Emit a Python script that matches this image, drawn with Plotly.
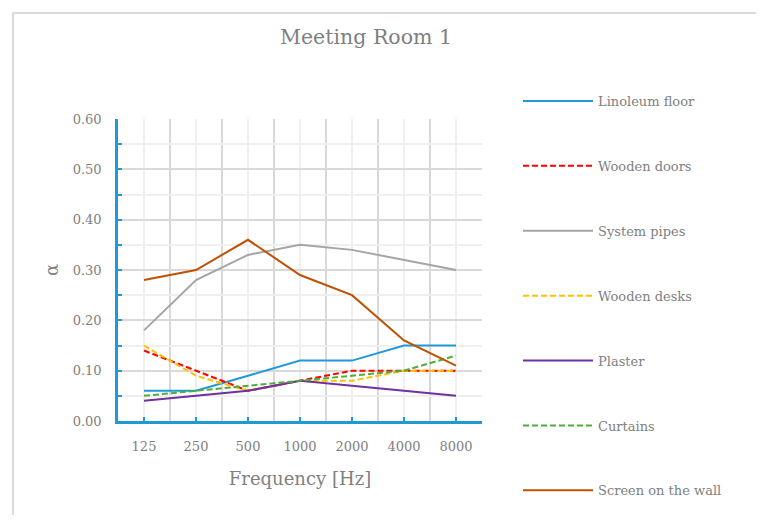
import plotly.graph_objects as go

# octave band centre frequencies
freqs = ["125", "250", "500", "1000", "2000", "4000", "8000"]

# absorption coefficients
linoleum_floor = [0.06, 0.06, 0.09, 0.12, 0.12, 0.15, 0.15]
wooden_doors = [0.14, 0.10, 0.06, 0.08, 0.10, 0.10, 0.10]
system_pipes = [0.18, 0.28, 0.33, 0.35, 0.34, 0.32, 0.30]
wooden_desks = [0.15, 0.09, 0.06, 0.08, 0.08, 0.10, 0.10]
plaster = [0.04, 0.05, 0.06, 0.08, 0.07, 0.06, 0.05]
curtains = [0.05, 0.06, 0.07, 0.08, 0.09, 0.10, 0.13]
screen_wall = [0.28, 0.30, 0.36, 0.29, 0.25, 0.16, 0.11]

series = [
    ("Linoleum floor", linoleum_floor, "#1f9ad7", "solid"),
    ("Wooden doors", wooden_doors, "#ff0000", "6px,3px"),
    ("System pipes", system_pipes, "#a5a5a5", "solid"),
    ("Wooden desks", wooden_desks, "#ffc000", "6px,3px"),
    ("Plaster", plaster, "#7030a0", "solid"),
    ("Curtains", curtains, "#4caf3a", "6px,3px"),
    ("Screen on the wall", screen_wall, "#bf5000", "solid"),
]

FONT = "DejaVu Serif"
GREY = "#808080"
AXIS_BLUE = "#1f9ad7"

xpos = list(range(len(freqs)))

fig = go.Figure()
for name, vals, color, dash in series:
    fig.add_trace(go.Scatter(
        x=xpos,
        y=vals,
        mode="lines",
        name=name,
        legendgroup=name,
        line=dict(color=color, width=2, dash=dash),
    ))

# page body has an 8px margin, so the figure is shrunk to fit the window
W, H = 748, 507
L, T = 110, 111
R, B = W - 474, H - 413
pw, ph = W - L - R, H - T - B

fig.update_layout(
    width=W,
    height=H,
    autosize=False,
    margin=dict(l=L, r=R, t=T, b=B),
    paper_bgcolor="white",
    plot_bgcolor="white",
    font=dict(family=FONT, color=GREY, size=13),
    title=dict(text="Meeting Room 1", x=358 / W, xanchor="center", y=1 - 29 / H, yanchor="middle",
               font=dict(size=20.5, color=GREY, family=FONT)),
    showlegend=True,
    legend=dict(
        x=1 + (510 - L - pw) / pw, xanchor="left",
        y=1 + (T - 78) / ph, yanchor="top",
        traceorder="grouped",
        tracegroupgap=45,
        itemwidth=70,
        maxheight=1000,
        font=dict(size=13, color=GREY, family=FONT),
        bgcolor="rgba(0,0,0,0)",
    ),
)

fig.update_xaxes(
    range=[-0.5, len(freqs) - 0.5],
    tickvals=xpos,
    ticktext=freqs,
    showgrid=True,
    gridcolor="#efefef",
    gridwidth=2,
    ticks="inside",
    ticklen=4,
    tickwidth=2,
    tickcolor=AXIS_BLUE,
    showline=True,
    linecolor=AXIS_BLUE,
    linewidth=2.5,
    zeroline=False,
    ticklabelstandoff=12,
    tickfont=dict(size=13, color=GREY, family=FONT),
    minor=dict(tick0=0.5, dtick=1, showgrid=True, gridcolor="#d9d9d9", gridwidth=2, ticks=""),
    title=dict(text="Frequency [Hz]", font=dict(size=18, color=GREY, family=FONT), standoff=20),
)

fig.update_yaxes(
    range=[0, 0.6],
    dtick=0.1,
    tickformat=".2f",
    showgrid=True,
    gridcolor="#d9d9d9",
    gridwidth=2,
    ticks="inside",
    ticklen=4,
    tickwidth=2,
    tickcolor=AXIS_BLUE,
    showline=True,
    linecolor=AXIS_BLUE,
    linewidth=2.5,
    zeroline=False,
    ticklabelstandoff=11,
    tickfont=dict(size=13, color=GREY, family=FONT),
    minor=dict(dtick=0.05, showgrid=True, gridcolor="#efefef", gridwidth=2,
               ticks="inside", ticklen=4, tickwidth=2, tickcolor=AXIS_BLUE),
    title=dict(text="α", font=dict(size=18, color=GREY, family=FONT), standoff=10),
)

# outer chart border (runs off the right and bottom edges)
fig.add_shape(
    type="rect", xref="paper", yref="paper", layer="below",
    x0=(5 - L) / pw, x1=(W + 20 - L) / pw,
    y0=-(H + 20 - T - ph) / ph, y1=1 + (T - 5) / ph,
    line=dict(color="#d9d9d9", width=2), fillcolor="rgba(0,0,0,0)",
)

fig.write_html("out.html")
